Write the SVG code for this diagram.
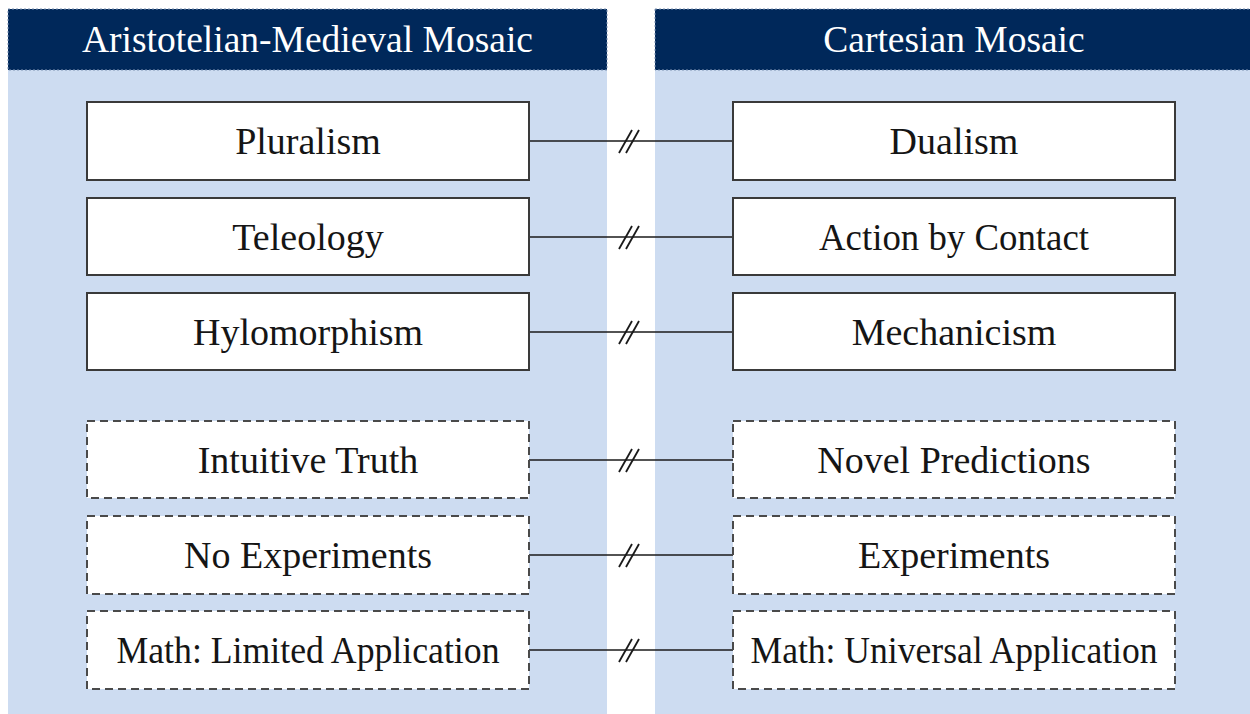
<svg xmlns="http://www.w3.org/2000/svg" width="1250" height="714" viewBox="0 0 1250 714">
<style>
.panel{fill:#cddcf1}
.hdr{fill:#00285a;stroke:#7f93b3;stroke-width:1;stroke-dasharray:2 2}
.htxt{font-family:"Liberation Serif",serif;font-size:37.5px;fill:#ffffff;text-anchor:middle}
.box{fill:#ffffff;stroke:#3a3a3a;stroke-width:2}
.dbox{fill:#ffffff;stroke:#4a4a4a;stroke-width:2;stroke-dasharray:8 5}
.btxt{font-family:"Liberation Serif",serif;font-size:38px;fill:#151515;text-anchor:middle}
.con{stroke:#1a1a1a;stroke-width:1.6;fill:none}
.sl{stroke:#1a1a1a;stroke-width:1.8;fill:none}
</style>
<rect width="1250" height="714" fill="#ffffff"/>
<g id="panel-left">
<rect class="panel" x="8" y="70" width="599" height="644"/>
<rect class="hdr" x="8" y="9" width="599" height="61"/>
<text class="htxt" x="307.5" y="52">Aristotelian-Medieval Mosaic</text>
</g>
<g id="panel-right">
<rect class="panel" x="655" y="70" width="595" height="644"/>
<rect class="hdr" x="655" y="9" width="600" height="61"/>
<text class="htxt" x="954" y="52">Cartesian Mosaic</text>
</g>
<g id="connectors">
<line class="con" x1="529" y1="141" x2="733" y2="141"/>
<line class="sl" x1="619" y1="153" x2="632" y2="130"/><line class="sl" x1="626" y1="153" x2="639" y2="130"/>
<line class="con" x1="529" y1="237" x2="733" y2="237"/>
<line class="sl" x1="619" y1="249" x2="632" y2="226"/><line class="sl" x1="626" y1="249" x2="639" y2="226"/>
<line class="con" x1="529" y1="332" x2="733" y2="332"/>
<line class="sl" x1="619" y1="344" x2="632" y2="321"/><line class="sl" x1="626" y1="344" x2="639" y2="321"/>
<line class="con" x1="529" y1="460" x2="733" y2="460"/>
<line class="sl" x1="619" y1="472" x2="632" y2="449"/><line class="sl" x1="626" y1="472" x2="639" y2="449"/>
<line class="con" x1="529" y1="555" x2="733" y2="555"/>
<line class="sl" x1="619" y1="567" x2="632" y2="544"/><line class="sl" x1="626" y1="567" x2="639" y2="544"/>
<line class="con" x1="529" y1="650" x2="733" y2="650"/>
<line class="sl" x1="619" y1="662" x2="632" y2="639"/><line class="sl" x1="626" y1="662" x2="639" y2="639"/>
</g>
<g id="pluralism"><rect class="box" x="87" y="102" width="442" height="78"/><text class="btxt" x="308" y="154">Pluralism</text></g>
<g id="teleology"><rect class="box" x="87" y="198" width="442" height="77"/><text class="btxt" x="308" y="250">Teleology</text></g>
<g id="hylomorphism"><rect class="box" x="87" y="293" width="442" height="77"/><text class="btxt" x="308" y="345">Hylomorphism</text></g>
<g id="intuitive-truth"><rect class="dbox" x="87" y="421" width="442" height="77"/><text class="btxt" x="308" y="473">Intuitive Truth</text></g>
<g id="no-experiments"><rect class="dbox" x="87" y="516" width="442" height="78"/><text class="btxt" x="308" y="568">No Experiments</text></g>
<g id="math-limited"><rect class="dbox" x="87" y="611" width="442" height="78"/><text class="btxt" x="308" y="663" textLength="383" lengthAdjust="spacingAndGlyphs">Math: Limited Application</text></g>
<g id="dualism"><rect class="box" x="733" y="102" width="442" height="78"/><text class="btxt" x="954" y="154">Dualism</text></g>
<g id="action-by-contact"><rect class="box" x="733" y="198" width="442" height="77"/><text class="btxt" x="954" y="250" textLength="270" lengthAdjust="spacingAndGlyphs">Action by Contact</text></g>
<g id="mechanicism"><rect class="box" x="733" y="293" width="442" height="77"/><text class="btxt" x="954" y="345">Mechanicism</text></g>
<g id="novel-predictions"><rect class="dbox" x="733" y="421" width="442" height="77"/><text class="btxt" x="954" y="473">Novel Predictions</text></g>
<g id="experiments"><rect class="dbox" x="733" y="516" width="442" height="78"/><text class="btxt" x="954" y="568">Experiments</text></g>
<g id="math-universal"><rect class="dbox" x="733" y="611" width="442" height="78"/><text class="btxt" x="954" y="663" textLength="407" lengthAdjust="spacingAndGlyphs">Math: Universal Application</text></g>
</svg>
